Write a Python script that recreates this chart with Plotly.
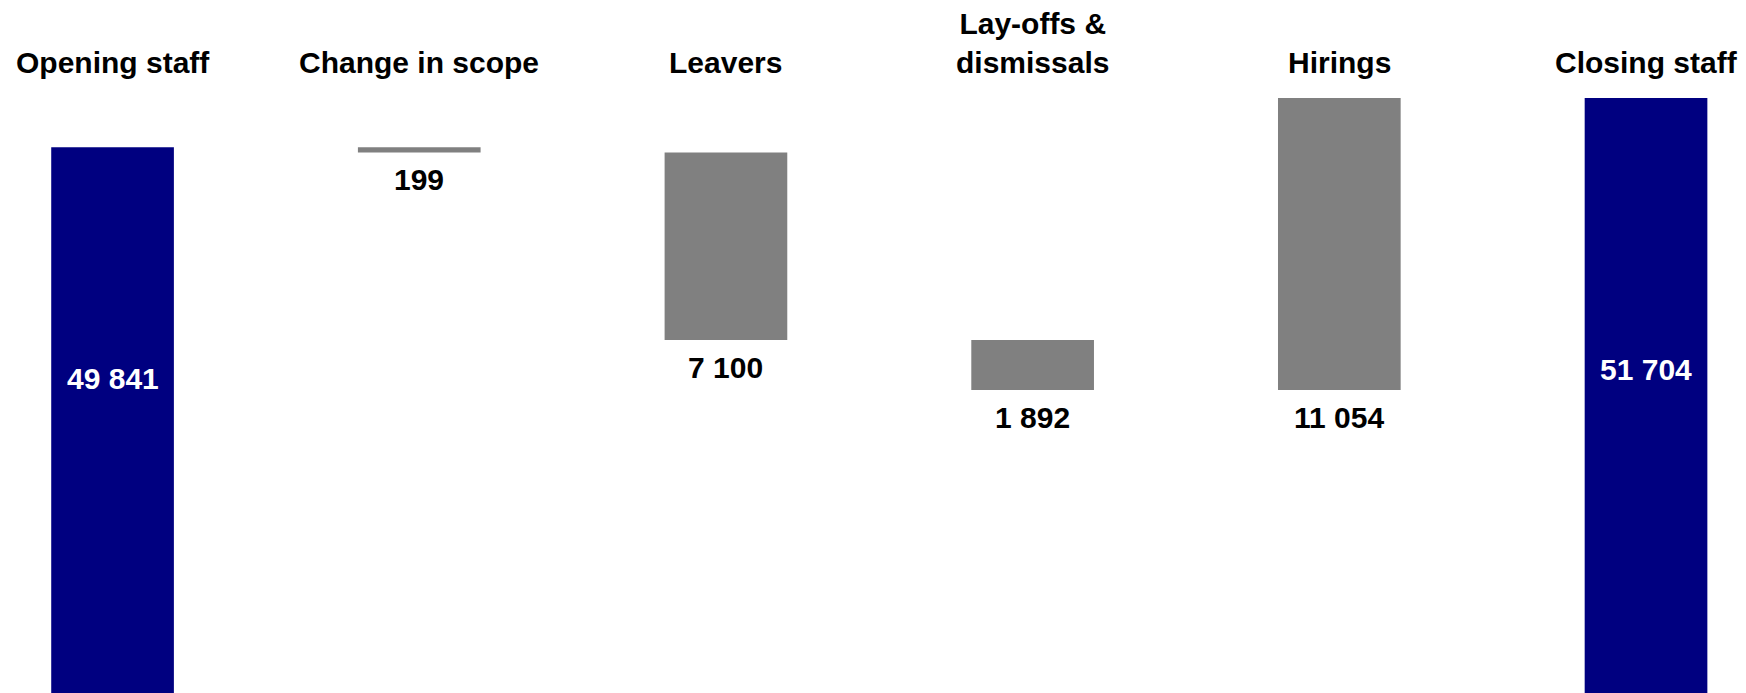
import plotly.graph_objects as go

# Headcount bridge: opening staff, movements during the year, closing staff
categories = ["Opening staff", "Change in scope", "Leavers",
              "Lay-offs &<br>dismissals", "Hirings", "Closing staff"]
opening_staff = 49841
movements = [-199, -7100, -1892, 11054]   # scope, leavers, lay-offs, hirings
closing_staff = 51704

values = [opening_staff] + movements + [closing_staff]
measures = ["absolute", "relative", "relative", "relative", "relative", "absolute"]

NAVY = "#000080"
GREY = "#808080"
FONT = "Liberation Sans, Arial, sans-serif"


def fmt(v):
    return f"{abs(v):,}".replace(",", " ")


fig = go.Figure(go.Waterfall(
    x=categories,
    y=values,
    measure=measures,
    width=0.4,
    connector=dict(visible=False),
    increasing=dict(marker=dict(color=GREY, line=dict(width=0))),
    decreasing=dict(marker=dict(color=GREY, line=dict(width=0))),
    totals=dict(marker=dict(color=NAVY, line=dict(width=0))),
    textposition="none",
    hoverinfo="skip",
))

annotations = []

# category headings above the bars
for c in categories:
    annotations.append(dict(
        x=c, xref="x", y=0.883, yref="paper",
        xanchor="center", yanchor="bottom", showarrow=False,
        text=f"<b>{c}</b>", font=dict(family=FONT, size=30, color="black"),
    ))

# value labels below each movement bar
running = opening_staff
for c, v in zip(categories[1:5], movements):
    end = running + v
    bottom = min(running, end)
    annotations.append(dict(
        x=c, xref="x", y=bottom, yref="y",
        xanchor="center", yanchor="top", showarrow=False, yshift=-9,
        text=f"<b>{fmt(v)}</b>", font=dict(family=FONT, size=30, color="black"),
    ))
    running = end

# totals labelled inside the navy bars
for c, v, yp in [(categories[0], opening_staff, 0.4545),
                 (categories[-1], closing_staff, 0.4668)]:
    annotations.append(dict(
        x=c, xref="x", y=yp, yref="paper",
        xanchor="center", yanchor="middle", showarrow=False,
        text=f"<b>{fmt(v)}</b>", font=dict(family=FONT, size=30, color="white"),
    ))

fig.update_layout(
    width=1746, height=693,
    margin=dict(l=0, r=0, t=0, b=0),
    paper_bgcolor="white", plot_bgcolor="white",
    showlegend=False,
    annotations=annotations,
    xaxis=dict(type="category", range=[-0.367, 5.326], visible=False, fixedrange=True),
    yaxis=dict(range=[29180, 55410], visible=False, fixedrange=True),
)

fig.write_html("out.html")
